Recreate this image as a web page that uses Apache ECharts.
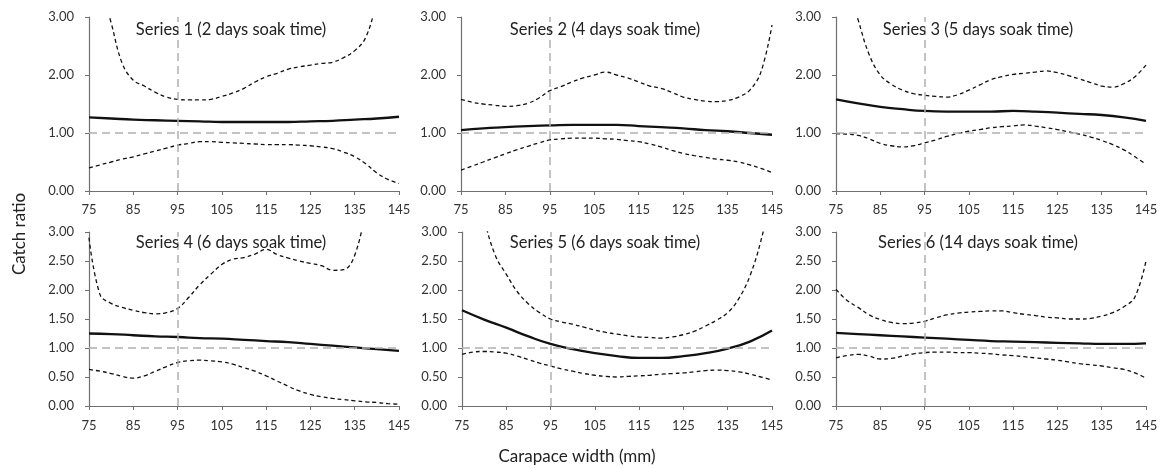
<!DOCTYPE html>
<html>
<head>
<meta charset="utf-8">
<script src="https://cdn.jsdelivr.net/npm/echarts@6/dist/echarts.min.js"></script>
<style>html,body{margin:0;padding:0;background:#fff}#c{width:1161px;height:468px}</style>
</head>
<body>
<div id="c"></div>
<script>
// ---------- DATA ----------
var xCoarse = [75,80,85,90,95,100,105,110,115,120,125,130,135,140,145];
var xFine = [75,77.5,80,82.5,85,87.5,90,92.5,95,97.5,100,102.5,105,107.5,110,112.5,115,117.5,120,122.5,125,127.5,130,132.5,135,137.5,140,142.5,145];
var panelTitles = ["Series 1 (2 days soak time)","Series 2 (4 days soak time)","Series 3 (5 days soak time)","Series 4 (6 days soak time)","Series 5 (6 days soak time)","Series 6 (14 days soak time)"];
var xTitle = "Carapace width (mm)";
var yTitle = "Catch ratio";

var est1 = [1.27,1.25,1.23,1.22,1.21,1.20,1.19,1.19,1.19,1.19,1.20,1.21,1.23,1.25,1.28];
var up1  = [4.5,3.6,2.9,2.2,1.91,1.81,1.70,1.62,1.58,1.57,1.57,1.58,1.63,1.69,1.77,1.88,1.97,2.03,2.10,2.14,2.17,2.20,2.22,2.30,2.42,2.65,3.3,4.2,5.5];
var lo1  = [0.40,0.45,0.50,0.55,0.59,0.64,0.69,0.74,0.79,0.82,0.85,0.85,0.84,0.83,0.82,0.81,0.80,0.80,0.80,0.79,0.78,0.76,0.73,0.67,0.59,0.47,0.31,0.20,0.13];

var est2 = [1.05,1.08,1.10,1.12,1.13,1.14,1.14,1.14,1.12,1.10,1.08,1.05,1.03,1.00,0.97];
var up2  = [1.58,1.53,1.50,1.48,1.46,1.47,1.51,1.60,1.73,1.80,1.88,1.95,2.00,2.05,2.00,1.95,1.88,1.81,1.77,1.70,1.62,1.58,1.55,1.54,1.56,1.62,1.74,2.05,2.86];
var lo2  = [0.36,0.43,0.50,0.57,0.64,0.71,0.77,0.83,0.88,0.90,0.91,0.91,0.91,0.90,0.89,0.87,0.85,0.81,0.76,0.70,0.65,0.61,0.58,0.55,0.53,0.50,0.45,0.39,0.32];

var est3 = [1.58,1.51,1.45,1.41,1.38,1.37,1.37,1.37,1.38,1.37,1.35,1.33,1.31,1.27,1.21];
var up3  = [4.5,3.6,2.95,2.35,2.00,1.84,1.74,1.68,1.65,1.63,1.62,1.66,1.74,1.83,1.92,1.97,2.01,2.03,2.05,2.07,2.04,1.99,1.93,1.87,1.81,1.79,1.85,1.97,2.17];
var lo3  = [0.99,0.98,0.96,0.90,0.82,0.78,0.76,0.78,0.83,0.88,0.94,0.99,1.03,1.06,1.09,1.11,1.12,1.14,1.12,1.09,1.06,1.02,0.98,0.93,0.87,0.80,0.71,0.59,0.46];

var est4 = [1.25,1.24,1.22,1.20,1.19,1.17,1.16,1.14,1.12,1.10,1.07,1.04,1.01,0.98,0.95];
var up4  = [2.9,1.92,1.77,1.70,1.65,1.61,1.59,1.61,1.68,1.87,2.09,2.27,2.44,2.53,2.56,2.62,2.70,2.61,2.55,2.50,2.46,2.42,2.34,2.35,2.60,3.4,4.5,6.0,8.0];
var lo4  = [0.63,0.60,0.56,0.51,0.48,0.52,0.60,0.68,0.75,0.78,0.79,0.78,0.76,0.72,0.66,0.60,0.52,0.43,0.34,0.26,0.20,0.16,0.13,0.11,0.09,0.07,0.06,0.04,0.03];

var est5 = [1.65,1.49,1.35,1.20,1.07,0.98,0.91,0.86,0.83,0.83,0.86,0.91,0.99,1.11,1.30];
var up5  = [5.8,4.3,3.25,2.6,2.27,1.97,1.76,1.61,1.50,1.45,1.41,1.36,1.31,1.27,1.24,1.21,1.19,1.18,1.17,1.19,1.23,1.29,1.38,1.48,1.61,1.85,2.24,2.85,3.7];
var lo5  = [0.89,0.93,0.94,0.93,0.91,0.86,0.80,0.74,0.69,0.64,0.60,0.56,0.53,0.51,0.50,0.51,0.52,0.53,0.55,0.56,0.57,0.59,0.61,0.62,0.61,0.59,0.55,0.50,0.45];

var est6 = [1.26,1.24,1.22,1.20,1.18,1.16,1.14,1.12,1.11,1.10,1.09,1.08,1.07,1.07,1.08];
var up6  = [2.01,1.82,1.70,1.57,1.49,1.44,1.42,1.43,1.46,1.52,1.57,1.60,1.62,1.63,1.64,1.64,1.61,1.58,1.56,1.53,1.52,1.50,1.50,1.51,1.55,1.61,1.71,1.88,2.50];
var lo6  = [0.83,0.87,0.89,0.86,0.81,0.82,0.86,0.90,0.92,0.93,0.93,0.92,0.92,0.91,0.90,0.88,0.87,0.85,0.83,0.81,0.79,0.76,0.73,0.71,0.69,0.66,0.63,0.57,0.48];

var refX = 95;
var refY = 1;

// ---------- CHART ----------
var ests = [est1,est2,est3,est4,est5,est6];
var ups = [up1,up2,up3,up4,up5,up6];
var los = [lo1,lo2,lo3,lo4,lo5,lo6];
var FONT = 'Lato, "Open Sans", sans-serif';

var gridPos = [
  {left:89, top:17, width:310, height:174},
  {left:461, top:17, width:311, height:174},
  {left:836, top:17, width:310, height:174},
  {left:89, top:232, width:310, height:174},
  {left:462, top:232, width:310, height:174},
  {left:836, top:232, width:310, height:174}
];
var titlePos = [[231,30],[605,30],[978,30],[231,243],[605,243],[978,243]];

function pairs(xs, ys){ return xs.map(function(x,i){ return [x, ys[i]]; }); }

var grids=[], xAxes=[], yAxes=[], series=[], graphics=[];
for (var i=0;i<6;i++){
  grids.push(Object.assign({containLabel:false}, gridPos[i]));
  xAxes.push({
    type:'value', gridIndex:i, min:75, max:145, interval:10,
    axisLine:{show:true, onZero:false, lineStyle:{color:'#707070', width:1.2}},
    axisTick:{show:true, length:4, inside:false, lineStyle:{color:'#707070'}},
    axisLabel:{color:'#333', fontSize:13, fontFamily:FONT, margin:(i<3?12:13)},
    splitLine:{show:false}
  });
  yAxes.push({
    type:'value', gridIndex:i, min:0, max:3, interval:(i<3?1:0.5),
    axisLine:{show:true, lineStyle:{color:'#707070', width:1.2}},
    axisTick:{show:true, length:4, lineStyle:{color:'#707070'}},
    axisLabel:{color:'#333', fontSize:13, fontFamily:FONT, margin:15,
      formatter:function(v){ return v.toFixed(2); }},
    splitLine:{show:false}
  });
  series.push({
    type:'line', xAxisIndex:i, yAxisIndex:i, data:[], silent:true, z:1,
    markLine:{silent:true, symbol:'none', label:{show:false},
      lineStyle:{color:'#b0b0b0', type:[8,5], width:1.5},
      data:[{xAxis:refX},{yAxis:refY}]}
  });
  series.push({
    type:'line', xAxisIndex:i, yAxisIndex:i, data:pairs(xFine, ups[i]), smooth:0.4,
    showSymbol:false, clip:true, z:3,
    lineStyle:{color:'#111', width:1.3, type:[4,3]}
  });
  series.push({
    type:'line', xAxisIndex:i, yAxisIndex:i, data:pairs(xFine, los[i]), smooth:0.4,
    showSymbol:false, clip:true, z:3,
    lineStyle:{color:'#111', width:1.3, type:[4,3]}
  });
  series.push({
    type:'line', xAxisIndex:i, yAxisIndex:i, data:pairs(xCoarse, ests[i]), smooth:0.5,
    showSymbol:false, clip:true, z:4,
    lineStyle:{color:'#111', width:2.3}
  });
  graphics.push({type:'text', x:titlePos[i][0], y:titlePos[i][1], z:10,
    style:{text:panelTitles[i], fill:'#222', font:'16.5px '+FONT, textAlign:'center', textVerticalAlign:'middle'}});
}
graphics.push({type:'text', x:577, y:457,
  style:{text:xTitle, fill:'#222', font:'17px '+FONT, textAlign:'center', textVerticalAlign:'middle'}});
graphics.push({type:'text', x:20, y:234, rotation:Math.PI/2,
  style:{text:yTitle, fill:'#222', font:'17px '+FONT, textAlign:'center', textVerticalAlign:'middle'}});

var chart = echarts.init(document.getElementById('c'), null, {renderer:'canvas'});
chart.setOption({
  animation:false,
  backgroundColor:'#fff',
  grid:grids, xAxis:xAxes, yAxis:yAxes, series:series, graphic:graphics
});
</script>
</body>
</html>
